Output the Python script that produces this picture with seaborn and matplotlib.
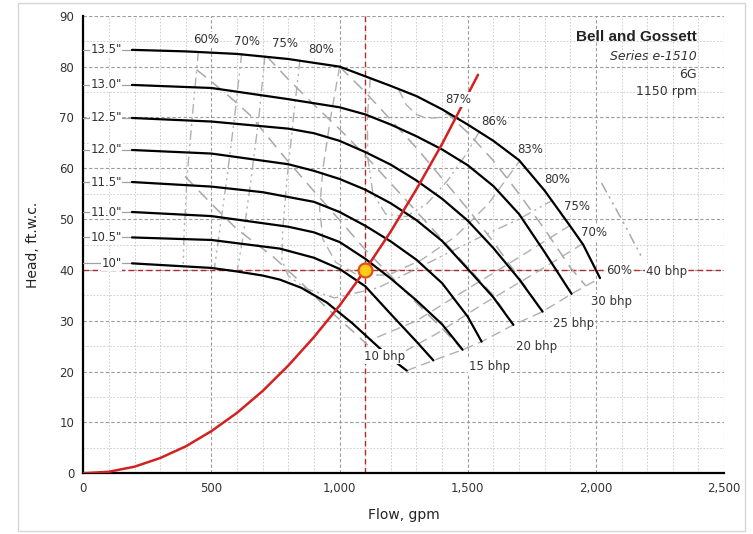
import matplotlib
matplotlib.use("Agg")
import pandas as pd
import matplotlib.pyplot as plt
import seaborn as sns
from matplotlib.ticker import MultipleLocator, FuncFormatter
from matplotlib.patches import Rectangle

# ----------------------------
# IMPELLER CURVES (flow gpm / head ft.w.c.)
# ----------------------------
trims = ['13.5"', '13.0"', '12.5"', '12.0"', '11.5"', '11.0"', '10.5"', '10"']

flow_135 = [190, 400, 600, 800, 1000, 1100, 1200, 1300, 1400, 1500, 1600, 1700, 1800, 1900, 1950, 2016]
head_135 = [83.3, 83.0, 82.5, 81.5, 80.0, 78.1, 76.2, 74.2, 71.6, 68.6, 65.4, 61.6, 55.6, 48.6, 45.0, 38.4]
flow_130 = [190, 500, 800, 1000, 1100, 1200, 1300, 1400, 1500, 1600, 1700, 1800, 1905]
head_130 = [76.4, 75.8, 73.6, 72.0, 70.6, 68.6, 66.3, 63.7, 60.6, 56.5, 51.0, 43.5, 35.3]
flow_125 = [190, 500, 800, 900, 1000, 1100, 1200, 1300, 1400, 1500, 1600, 1700, 1792]
head_125 = [69.9, 69.2, 67.8, 66.9, 65.4, 63.2, 60.7, 57.6, 54.0, 49.7, 44.3, 38.2, 31.8]
flow_120 = [190, 500, 800, 900, 1000, 1100, 1200, 1300, 1400, 1500, 1600, 1678]
head_120 = [63.6, 62.9, 60.8, 59.5, 57.9, 55.8, 53.1, 49.8, 45.7, 40.2, 34.6, 29.2]
flow_115 = [190, 500, 700, 900, 1000, 1100, 1200, 1300, 1400, 1500, 1554]
head_115 = [57.3, 56.4, 55.3, 53.4, 51.4, 48.7, 45.6, 42.0, 37.4, 30.8, 25.9]
flow_110 = [190, 500, 800, 900, 1000, 1100, 1200, 1300, 1400, 1480]
head_110 = [51.4, 50.6, 48.5, 47.4, 45.5, 42.2, 38.3, 34.0, 29.3, 24.3]
flow_105 = [190, 500, 767, 900, 1000, 1100, 1200, 1300, 1366]
head_105 = [46.4, 45.9, 44.2, 42.4, 40.2, 36.8, 31.3, 25.9, 22.2]
flow_100 = [190, 500, 600, 700, 767, 850, 950, 1050, 1150, 1200, 1262]
head_100 = [41.3, 40.4, 39.7, 38.9, 38.1, 36.5, 33.6, 29.5, 24.9, 22.6, 20.2]

# system curve
sys_flow = [0, 100, 200, 300, 400, 500, 600, 700, 800, 900, 1000, 1100, 1200, 1300, 1400, 1540]
sys_head = [0, 0.3, 1.3, 3.0, 5.3, 8.3, 11.9, 16.2, 21.2, 26.8, 33.0, 40.0, 47.6, 55.9, 64.8, 78.4]
op_flow, op_head = 1100, 40

# ----------------------------
# EFFICIENCY CONTOURS
# ----------------------------
eff_60_left_q = [449, 425, 405, 393, 390]
eff_60_left_h = [83.0, 70, 58.4, 47, 41.2]
eff_60_right_q = [1262, 1366, 1480, 1554, 1678, 1792, 1905, 2016]
eff_60_right_h = [20.2, 22.2, 24.3, 25.9, 29.2, 31.8, 35.3, 38.4]
eff_70_left_q = [618, 590, 560, 530, 512]
eff_70_left_h = [82.6, 70, 58, 47, 40.4]
eff_70_right_q = [1950, 1750, 1550, 1380, 1200]
eff_70_right_h = [45.2, 39, 33, 27.5, 22.5]
eff_75_left_q = [709, 685, 655, 625, 600]
eff_75_left_h = [82.2, 70, 58, 47, 39.7]
eff_75_right_q = [1900, 1700, 1500, 1300, 1120]
eff_75_right_h = [48.8, 42.5, 36.3, 30, 26.2]
eff_80_q = [845, 820, 795, 778, 775, 800, 870, 980, 1150, 1350, 1550, 1700, 1830]
eff_80_h = [81.3, 70, 58, 48, 42, 38.8, 36.3, 34.5, 36.5, 41.5, 46.5, 50, 53.7]
eff_83_q = [1000, 965, 935, 922, 935, 985, 1070, 1190, 1320, 1450, 1580, 1700]
eff_83_h = [80.0, 70, 60, 52, 46, 41.5, 39, 39, 42, 46.5, 53, 61.3]
eff_86_q = [1120, 1108, 1110, 1130, 1180, 1260, 1340, 1420, 1490, 1545]
eff_86_h = [77.8, 70, 62, 55, 51, 50.5, 53, 57.5, 62.5, 67.2]
eff_87_q = [1230, 1260, 1300, 1340, 1390, 1425]
eff_87_h = [75.5, 72.5, 70.6, 69.8, 70.0, 70.9]

# ----------------------------
# BRAKE HORSEPOWER LINES
# ----------------------------
bhp_10_q = [397, 500, 600, 741, 850, 950, 1050, 1110]
bhp_10_h = [58.4, 53, 48, 42.6, 37.5, 32.5, 28, 25.2]
bhp_15_q = [442, 550, 650, 793, 900, 1000, 1100, 1200, 1300, 1400, 1480]
bhp_15_h = [79.4, 75, 70.5, 61.7, 55.5, 49.8, 44, 38.8, 33.5, 28.5, 24.3]
bhp_20_q = [716, 800, 900, 1002, 1100, 1200, 1300, 1400, 1500, 1600, 1678]
bhp_20_h = [82.0, 77.5, 72.5, 67.6, 62.5, 57, 51.5, 46, 40.5, 35, 29.2]
bhp_25_q = [1000, 1100, 1200, 1300, 1400, 1500, 1600, 1700, 1792]
bhp_25_h = [80, 75, 69.5, 64, 58, 52, 45.5, 38.5, 31.8]
bhp_30_q = [1410, 1500, 1600, 1700, 1800, 1900, 1960]
bhp_30_h = [71.3, 67, 61.5, 55, 48, 40.5, 36.9]
bhp_40_q = [2022, 2100, 2178]
bhp_40_h = [57.1, 50, 42.6]

# labels (text, flow, head)
eff_labels = [("60%", 480, 85.3), ("70%", 638, 84.9), ("75%", 787, 84.5), ("80%", 928, 83.3),
              ("87%", 1463, 73.5), ("86%", 1602, 69.3), ("83%", 1745, 63.6), ("80%", 1848, 57.7),
              ("75%", 1926, 52.5), ("70%", 1994, 47.4), ("60%", 2092, 39.9)]
bhp_labels = [("10 bhp", 1177, 23.0), ("15 bhp", 1586, 21.0), ("20 bhp", 1768, 24.9),
              ("25 bhp", 1914, 29.5), ("30 bhp", 2059, 33.8), ("40 bhp", 2274, 39.6)]

# ----------------------------
# PLOT
# ----------------------------
sns.set_style("white")
plt.rcParams['font.family'] = ['DejaVu Sans']

fig = plt.figure(figsize=(7.53, 5.34), dpi=100)
ax = fig.add_axes([0.1106, 0.1137, 0.851, 0.8567])

ax.set_xlim(0, 2500)
ax.set_ylim(0, 90)
ax.xaxis.set_major_locator(MultipleLocator(500))
ax.xaxis.set_minor_locator(MultipleLocator(100))
ax.yaxis.set_major_locator(MultipleLocator(10))
ax.yaxis.set_minor_locator(MultipleLocator(5))
ax.xaxis.set_major_formatter(FuncFormatter(lambda v, p: f"{int(v):,}"))
ax.grid(which='major', color='#9c9c9c', linestyle=(0, (3, 2)), lw=0.8)
ax.grid(which='minor', color='#c8c8c8', linestyle=(0, (2, 2)), lw=0.6)
ax.set_axisbelow(True)
for s in ['top', 'right']:
    ax.spines[s].set_visible(False)
for s in ['left', 'bottom']:
    ax.spines[s].set_color('black')
    ax.spines[s].set_linewidth(1.6)
ax.tick_params(which='major', direction='inout', length=6, width=1.2, labelsize=8.5,
               labelcolor='#333333')
ax.tick_params(which='minor', direction='inout', length=4, width=1.0)

# operating point guides
ax.axvline(op_flow, color='#b22a2a', linestyle=(0, (4, 2.5)), lw=1.0, zorder=1)
ax.axhline(op_head, color='#b22a2a', linestyle=(0, (4, 2.5)), lw=1.0, zorder=1)

# efficiency contours
eff_lines = [(eff_60_left_q, eff_60_left_h), (eff_60_right_q, eff_60_right_h),
             (eff_70_left_q, eff_70_left_h), (eff_70_right_q, eff_70_right_h),
             (eff_75_left_q, eff_75_left_h), (eff_75_right_q, eff_75_right_h),
             (eff_80_q, eff_80_h), (eff_83_q, eff_83_h), (eff_86_q, eff_86_h), (eff_87_q, eff_87_h)]
for i, (q, h) in enumerate(eff_lines):
    style = (0, (7, 3, 1.5, 3, 1.5, 3)) if i % 2 == 0 else (0, (7, 4))
    sns.lineplot(x=q, y=h, ax=ax, sort=False, estimator=None, color='#b0b0b0',
                 lw=1.0, linestyle=style, zorder=2)

# bhp lines
bhp_lines = [(bhp_10_q, bhp_10_h), (bhp_15_q, bhp_15_h), (bhp_20_q, bhp_20_h),
             (bhp_25_q, bhp_25_h), (bhp_30_q, bhp_30_h), (bhp_40_q, bhp_40_h)]
for i, (q, h) in enumerate(bhp_lines):
    style = (0, (8, 5)) if i < 5 else (0, (7, 3, 1.5, 3, 1.5, 3))
    sns.lineplot(x=q, y=h, ax=ax, sort=False, estimator=None, color='#a8a8a8',
                 lw=1.1, linestyle=style, zorder=2)

# impeller curves
curve_data = [(flow_135, head_135), (flow_130, head_130), (flow_125, head_125), (flow_120, head_120),
              (flow_115, head_115), (flow_110, head_110), (flow_105, head_105), (flow_100, head_100)]
df = pd.concat([pd.DataFrame({'flow': q, 'head': h, 'trim': t})
                for t, (q, h) in zip(trims, curve_data)], ignore_index=True)
sns.lineplot(data=df, x='flow', y='head', hue='trim', palette=['black'] * len(trims),
             sort=False, estimator=None, legend=False, lw=1.6, ax=ax, zorder=4)
ax.set_xlabel("Flow, gpm", fontsize=10, color='#222222', labelpad=9)
ax.set_ylabel("Head, ft.w.c.", fontsize=10, color='#222222', labelpad=14)

for t, (q, h) in zip(trims, curve_data):
    ax.plot([0, q[0]], [h[0], h[0]], color='#a0a0a0', lw=0.9, zorder=3)
    ax.text(150, h[0], t, ha='right', va='center', fontsize=8.5, color='#333333', zorder=5,
            bbox=dict(facecolor='white', edgecolor='none', pad=0.5))

# system curve + operating point
sns.lineplot(x=sys_flow, y=sys_head, ax=ax, sort=False, estimator=None, color='#d42020',
             lw=1.8, zorder=5)
ax.plot(op_flow, op_head, 'o', ms=10, mfc='#ffcc1a', mec='#e0501a', mew=1.6, zorder=6)

for txt, q, h in eff_labels + bhp_labels:
    ax.text(q, h, txt, ha='center', va='center', fontsize=8.5, color='#333333', zorder=5,
            bbox=dict(facecolor='white', edgecolor='none', pad=0.6))

# pump info
ax.text(2394, 85.9, "Bell and Gossett", ha='right', va='center', fontsize=11,
        fontweight='bold', family='Liberation Sans', color='#222222')
ax.text(2394, 82.0, "Series e-1510", ha='right', va='center', fontsize=9,
        style='italic', color='#333333')
ax.text(2394, 78.4, "6G", ha='right', va='center', fontsize=9, color='#333333')
ax.text(2394, 75.2, "1150 rpm", ha='right', va='center', fontsize=9, color='#333333')

fig.patches.append(Rectangle((18 / 753, 3 / 534), 727 / 753, 528 / 534, transform=fig.transFigure,
                             fill=False, edgecolor='#d6d6d6', lw=1.0))

fig.savefig("out.png", dpi=100)
